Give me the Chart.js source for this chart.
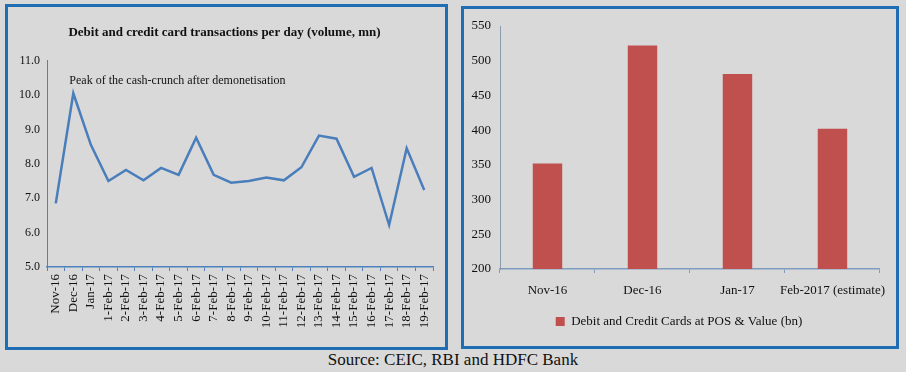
<!DOCTYPE html>
<html>
<head>
<meta charset="utf-8">
<script src="https://cdn.jsdelivr.net/npm/chart.js@4.4.0/dist/chart.umd.min.js"></script>
<style>
  body { margin: 0; width: 906px; height: 372px; background: #d9d9d9; position: relative; overflow: hidden; }
  .panel { position: absolute; border: 3px solid #1f6db3; background: #d9d9d9; box-sizing: border-box; }
  #leftPanel { left: 5px; top: 4px; width: 443px; height: 346px; }
  #rightPanel { left: 461px; top: 6px; width: 438px; height: 343px; }
  .panel canvas { display: block; }
  #source { position: absolute; left: 0; width: 906px; top: 350px; text-align: center;
            font-family: "Liberation Serif", serif; font-size: 17px; color: #111; }
</style>
</head>
<body>

<div class="panel" id="leftPanel"><canvas id="volumeChart" width="437" height="340"></canvas></div>
<div class="panel" id="rightPanel"><canvas id="valueChart" width="432" height="337"></canvas></div>
<div id="source">Source: CEIC, RBI and HDFC Bank</div>

<script>

// =====================================
// DATA
// =====================================

const dayLabels = [
    "Nov-16", "Dec-16", "Jan-17",
    "1-Feb-17", "2-Feb-17", "3-Feb-17", "4-Feb-17", "5-Feb-17",
    "6-Feb-17", "7-Feb-17", "8-Feb-17", "9-Feb-17", "10-Feb-17",
    "11-Feb-17", "12-Feb-17", "13-Feb-17", "14-Feb-17", "15-Feb-17",
    "16-Feb-17", "17-Feb-17", "18-Feb-17", "19-Feb-17"
];

const dayVolumes = [
    6.85, 10.05, 8.55,
    7.5, 7.82, 7.52, 7.88, 7.68,
    8.76, 7.68, 7.45, 7.5, 7.6,
    7.52, 7.9, 8.82, 8.73, 7.62,
    7.88, 6.22, 8.45, 7.24
];

const monthLabels = ["Nov-16", "Dec-16", "Jan-17", "Feb-2017 (estimate)"];

const monthValues = [352, 522, 481, 402];

const peakNote = "Peak of the cash-crunch after demonetisation";

const serif = "'Liberation Serif', 'Times New Roman', serif";


// =====================================
// PEAK NOTE PLUGIN
// =====================================

const peakNotePlugin = {

    id: "peakNote",

    afterDatasetsDraw(chart){

        const ctx = chart.ctx;
        const x = chart.scales.x.getPixelForValue(1) - 4;
        const y = chart.scales.y.getPixelForValue(10.4);

        ctx.save();
        ctx.font = "12px " + serif;
        ctx.fillStyle = "#111";
        ctx.textBaseline = "middle";
        ctx.fillText(peakNote, x, y);
        ctx.restore();
    }
};


// =====================================
// VOLUME LINE CHART
// =====================================

new Chart(

    document.getElementById("volumeChart"),

    {
        type: "line",

        data: {
            labels: dayLabels,
            datasets: [{
                data: dayVolumes,
                borderColor: "#4a7ebb",
                borderWidth: 2.5,
                pointRadius: 0,
                tension: 0,
                fill: false
            }]
        },

        options: {
            responsive: false,
            animation: false,
            devicePixelRatio: 1,
            layout: { padding: { left: 8, right: 12, top: 0, bottom: 0 } },
            plugins: {
                legend: { display: false },
                tooltip: { enabled: false },
                title: {
                    display: true,
                    text: "Debit and credit card transactions per day (volume, mn)",
                    color: "#111",
                    font: { family: serif, size: 13, weight: "bold" },
                    padding: { top: 18, bottom: 20 }
                }
            },
            scales: {
                x: {
                    offset: true,
                    grid: {
                        display: true,
                        drawOnChartArea: false,
                        offset: true,
                        tickLength: 4,
                        color: "#4f81bd"
                    },
                    border: { color: "#4f81bd", width: 1.5 },
                    ticks: {
                        autoSkip: false,
                        minRotation: 90,
                        maxRotation: 90,
                        padding: 3,
                        color: "#111",
                        font: { family: serif, size: 13 }
                    },
                    afterFit(scale){ scale.height = 80; }
                },
                y: {
                    min: 5,
                    max: 11,
                    grid: { display: false, drawTicks: false },
                    border: { color: "#4f81bd", width: 1 },
                    ticks: {
                        stepSize: 1,
                        padding: 7,
                        color: "#111",
                        font: { family: serif, size: 12 },
                        callback: v => v.toFixed(1)
                    },
                    afterFit(scale){ scale.width = 31; }
                }
            }
        },

        plugins: [peakNotePlugin]
    }
);


// =====================================
// VALUE BAR CHART
// =====================================

new Chart(

    document.getElementById("valueChart"),

    {
        type: "bar",

        data: {
            labels: monthLabels,
            datasets: [{
                label: "Debit and Credit Cards at POS & Value (bn)",
                data: monthValues,
                backgroundColor: "#c0504d",
                categoryPercentage: 1,
                barPercentage: 0.31
            }]
        },

        options: {
            responsive: false,
            animation: false,
            devicePixelRatio: 1,
            layout: { padding: { left: 6, right: 8, top: 17, bottom: 8 } },
            plugins: {
                tooltip: { enabled: false },
                legend: {
                    position: "bottom",
                    labels: {
                        boxWidth: 9,
                        boxHeight: 9,
                        padding: 10,
                        color: "#111",
                        font: { family: serif, size: 13 }
                    }
                }
            },
            scales: {
                x: {
                    grid: {
                        display: true,
                        drawOnChartArea: false,
                        offset: true,
                        tickLength: 4,
                        color: "#7f9dc0"
                    },
                    border: { color: "#7f9dc0", width: 1.5 },
                    ticks: {
                        autoSkip: false,
                        maxRotation: 0,
                        padding: 10,
                        color: "#111",
                        font: { family: serif, size: 13 }
                    },
                    afterFit(scale){ scale.height = 36; }
                },
                y: {
                    min: 200,
                    max: 550,
                    grid: { display: false, drawTicks: false },
                    border: { color: "#8a9bb0", width: 1 },
                    ticks: {
                        stepSize: 50,
                        padding: 9,
                        color: "#111",
                        font: { family: serif, size: 13 }
                    },
                    afterFit(scale){ scale.width = 30; }
                }
            }
        }
    }
);
</script>
</body>
</html>
